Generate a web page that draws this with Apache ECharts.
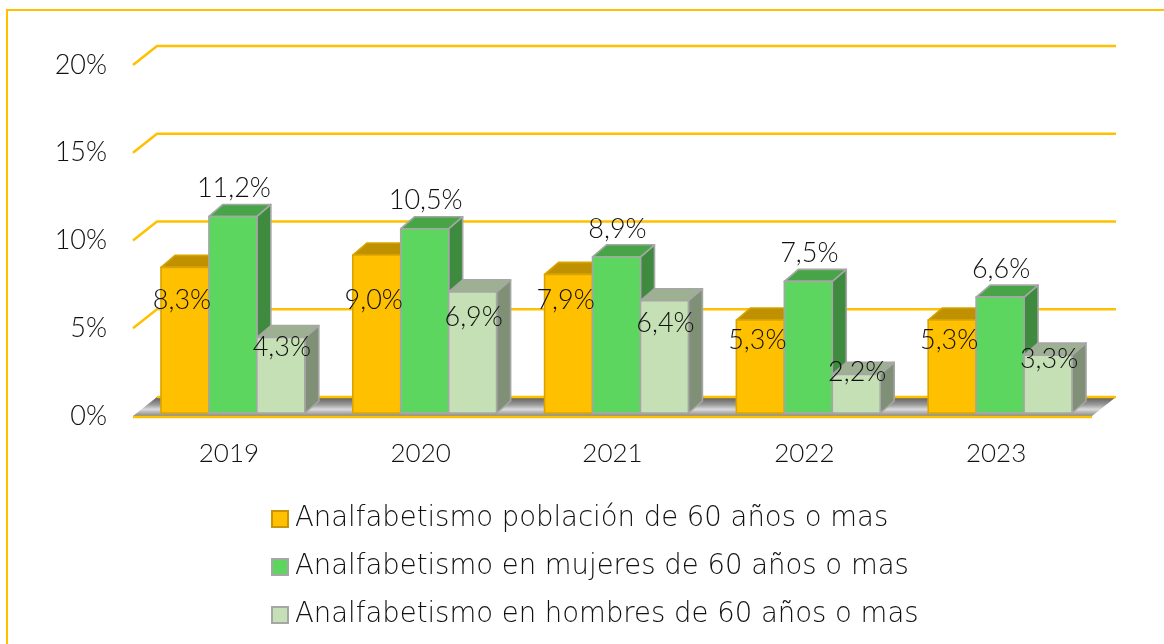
<!DOCTYPE html>
<html>
<head>
<meta charset="utf-8">
<script src="https://cdn.jsdelivr.net/npm/echarts/dist/echarts.min.js"></script>
<style>
  html, body { margin: 0; padding: 0; background: #fff; overflow: hidden; }
  #frame { position: absolute; left: 6px; top: 9px; width: 2000px; height: 2000px; border: 2px solid #FFC000; }
  #main { position: absolute; left: 0; top: 0; width: 1164px; height: 644px; }
</style>
</head>
<body>
<div id="frame"></div>
<div id="main"></div>
<script>
// datos
const years = ['2019', '2020', '2021', '2022', '2023'];
const poblacion = [8.3, 9.0, 7.9, 5.3, 5.3];
const mujeres = [11.2, 10.5, 8.9, 7.5, 6.6];
const hombres = [4.3, 6.9, 6.4, 2.2, 3.3];
const yTicks = [0, 5, 10, 15, 20];
const seriesNames = [
    'Analfabetismo población de 60 años o mas',
    'Analfabetismo en mujeres de 60 años o mas',
    'Analfabetismo en hombres de 60 años o mas'
];

const FONT = 'Lato';
const LEGEND_FONT = 'DejaVu Sans';
const WALL_DX = 24, WALL_DY = -19;   // profundidad del piso / pared
const BAR_DX = 14, BAR_DY = -12;     // profundidad de las barras
const SHIFT_X = 4, SHIFT_Y = -3;     // barras un poco hacia atrás

const faces = [
    { front: '#FFC000', top: '#BF9000', side: '#A67C00', stroke: '#D9A400' },
    { front: '#5DD65F', top: '#47A447', side: '#3E8A3E', stroke: '#A6A6A6' },
    { front: '#C5E0B4', top: '#9DB091', side: '#7F9077', stroke: '#A6A6A6' }
];
const allValues = [poblacion, mujeres, hombres];

// geometría de una barra
function barGeom(api, cat, val, k) {
    const c = api.coord([cat, val]);
    const base = api.coord([cat, 0]);
    const band = api.size([1, 0])[0];
    const bw = band * 0.25;
    const x0 = c[0] - band * 0.375 + k * bw + SHIFT_X;
    return { x0: x0, bw: bw, yTop: c[1] + SHIFT_Y, yBot: base[1] + SHIFT_Y };
}

function makeBarRender(k) {
    return function (params, api) {
        const g = barGeom(api, api.value(0), api.value(1), k);
        const f = faces[k];
        const ls = { stroke: f.stroke, lineWidth: 1.6, lineJoin: 'round' };
        return {
            type: 'group',
            children: [
                {
                    type: 'polygon',
                    shape: { points: [[g.x0 + g.bw, g.yTop], [g.x0 + g.bw + BAR_DX, g.yTop + BAR_DY], [g.x0 + g.bw + BAR_DX, g.yBot + BAR_DY], [g.x0 + g.bw, g.yBot]] },
                    style: Object.assign({ fill: f.side }, ls)
                },
                {
                    type: 'polygon',
                    shape: { points: [[g.x0, g.yTop], [g.x0 + g.bw, g.yTop], [g.x0 + g.bw + BAR_DX, g.yTop + BAR_DY], [g.x0 + BAR_DX, g.yTop + BAR_DY]] },
                    style: Object.assign({ fill: f.top }, ls)
                },
                {
                    type: 'rect',
                    shape: { x: g.x0, y: g.yTop, width: g.bw, height: g.yBot - g.yTop },
                    style: Object.assign({ fill: f.front }, ls)
                }
            ]
        };
    };
}

// piso y líneas de la pared del fondo
function renderWall(params, api) {
    const cs = params.coordSys;
    const t = api.value(1);
    const yf = api.coord([0, t])[1];
    const left = cs.x, right = cs.x + cs.width;
    const ls = { stroke: '#FFC000', lineWidth: 2.5, fill: null };
    const children = [];
    if (t === 0) {
        children.push({
            type: 'polygon',
            shape: { points: [[left, yf], [left + WALL_DX, yf + WALL_DY], [right + WALL_DX, yf + WALL_DY], [right, yf]] },
            style: {
                fill: {
                    type: 'linear', x: 0, y: 0, x2: 0, y2: 1,
                    colorStops: [
                        { offset: 0, color: '#5a5a5a' },
                        { offset: 0.4, color: '#9a9a9a' },
                        { offset: 0.65, color: '#dadada' },
                        { offset: 1, color: '#888888' }
                    ]
                }
            }
        });
        children.push({ type: 'line', shape: { x1: left + WALL_DX, y1: yf + WALL_DY, x2: right + WALL_DX, y2: yf + WALL_DY }, style: ls });
        children.push({ type: 'line', shape: { x1: left, y1: yf + 1, x2: right, y2: yf + 1 }, style: ls });
    } else {
        children.push({
            type: 'polyline',
            shape: { points: [[left, yf], [left + WALL_DX, yf + WALL_DY], [right + WALL_DX, yf + WALL_DY]] },
            style: ls
        });
    }
    return { type: 'group', children: children };
}

// etiquetas de datos
function renderLabel(params, api) {
    const cat = api.value(0), v = api.value(1), k = api.value(2);
    const g = barGeom(api, cat, v, k);
    const cx = g.x0 + g.bw / 2;
    let x = cx, y;
    if (k === 0) {
        x = cx - 3;
        y = api.coord([cat, Math.min(v - 1.0, 6.6)])[1];
    } else if (k === 1) {
        x = cx + 1;
        y = g.yTop - 28;
    } else {
        x = cx + 1;
        y = api.coord([cat, 1.04 + 0.667 * v])[1];
    }
    return {
        type: 'text',
        x: x,
        y: y,
        style: {
            text: v.toFixed(1).replace('.', ',') + '%',
            align: 'center',
            verticalAlign: 'middle',
            fontFamily: FONT,
            fontWeight: 300,
            fontSize: 27,
            fill: '#111'
        }
    };
}

const labelData = [];
allValues.forEach(function (arr, k) {
    arr.forEach(function (v, i) { labelData.push([i, v, k]); });
});

const myChart = echarts.init(document.getElementById('main'));
const option = {
    animation: false,
    grid: { left: 133, right: 72, top: 65, bottom: 228 },
    legend: {
        orient: 'vertical',
        left: 271,
        top: 504,
        padding: 0,
        icon: 'rect',
        itemWidth: 16,
        itemHeight: 16,
        itemGap: 18,
        selectedMode: false,
        textStyle: { fontFamily: LEGEND_FONT, fontWeight: 200, fontSize: 27.5, lineHeight: 30, color: '#111', padding: [0, 0, 0, 2] },
        data: seriesNames.map(function (n, k) {
            return { name: n, itemStyle: { color: faces[k].front, borderColor: k === 0 ? '#C99500' : '#A6A6A6', borderWidth: 2 } };
        })
    },
    xAxis: {
        type: 'category',
        data: years,
        axisLine: { show: false },
        axisTick: { show: false },
        axisLabel: { margin: 25, fontFamily: FONT, fontWeight: 300, fontSize: 26, color: '#111' }
    },
    yAxis: {
        type: 'value',
        min: 0,
        max: 20,
        interval: 5,
        axisLine: { show: false },
        axisTick: { show: false },
        splitLine: { show: false },
        axisLabel: { margin: 26, formatter: '{value}%', fontFamily: FONT, fontWeight: 300, fontSize: 27, color: '#111' }
    },
    series: [
        {
            type: 'custom',
            name: 'pared',
            clip: false,
            silent: true,
            z: 1,
            renderItem: renderWall,
            encode: { x: 0, y: 1 },
            data: yTicks.map(function (t) { return [0, t]; })
        }
    ].concat(allValues.map(function (arr, k) {
        return {
            type: 'custom',
            name: seriesNames[k],
            clip: false,
            z: 2 + k,
            itemStyle: { color: faces[k].front },
            renderItem: makeBarRender(k),
            encode: { x: 0, y: 1 },
            data: arr.map(function (v, i) { return [i, v]; })
        };
    })).concat([
        {
            type: 'custom',
            name: 'etiquetas',
            clip: false,
            silent: true,
            z: 10,
            renderItem: renderLabel,
            encode: { x: 0, y: 1 },
            data: labelData
        }
    ])
};
myChart.setOption(option);
</script>
</body>
</html>
